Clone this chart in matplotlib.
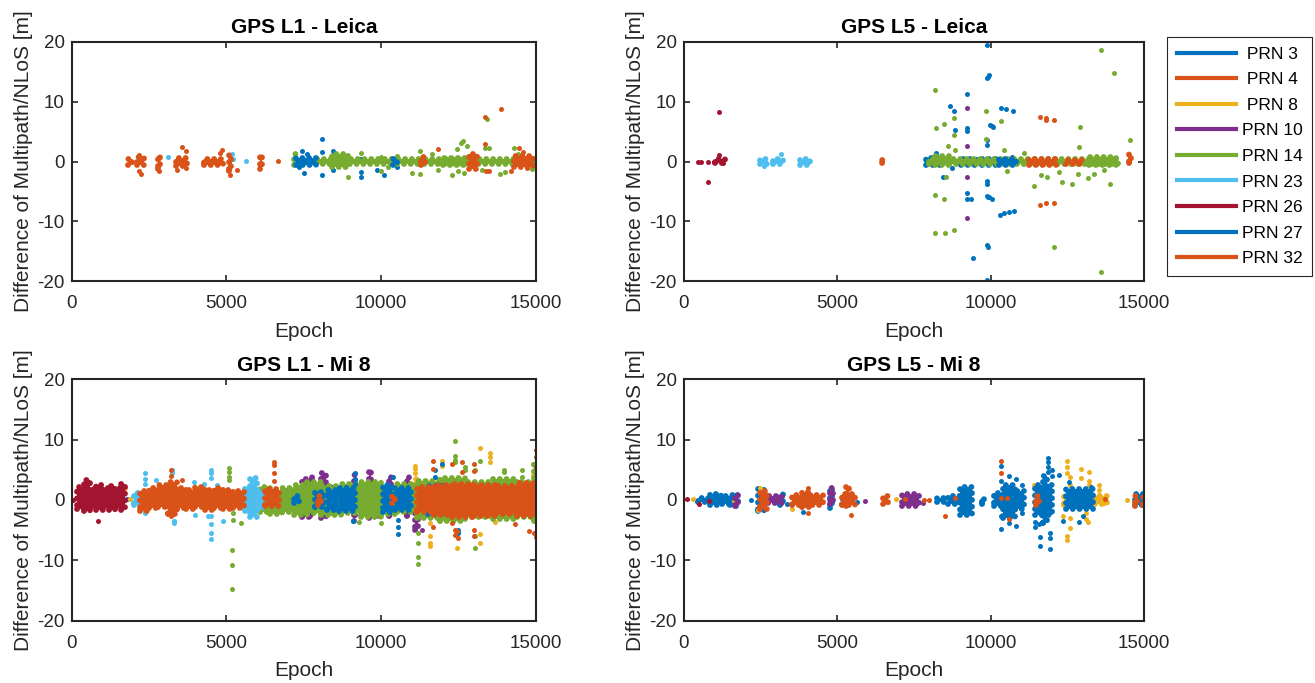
import matplotlib
matplotlib.use("Agg")
import matplotlib.pyplot as plt
from matplotlib.lines import Line2D

plt.rcParams['font.family'] = ['Liberation Sans', 'DejaVu Sans']
plt.rcParams['axes.unicode_minus'] = False

# PRN list and MATLAB default colour order
prns = [3, 4, 8, 10, 14, 23, 26, 27, 32]
prn_colors = ['#0072BD', '#D95319', '#EDB120', '#7E2F8E', '#77AC30',
              '#4DBEEE', '#A2142F', '#0072BD', '#D95319']
legend_labels = [' PRN 3', ' PRN 4', ' PRN 8', 'PRN 10', 'PRN 14',
                 'PRN 23', 'PRN 26', 'PRN 27', 'PRN 32']

# dense clusters: (prn, epoch start, epoch end, low, high)
# isolated dots: (prn, epoch, value)

# ---- GPS L1 - Leica
l1_leica_bands = [
    (32, 1820, 1960, -0.5, 0.5), (32, 2120, 2330, -0.6, 0.7), (32, 2800, 2840, -1.3, 1.0),
    (32, 3380, 3720, -0.7, 0.6), (32, 4280, 4900, -0.6, 0.5), (32, 5100, 5140, -1.5, 1.1),
    (32, 6100, 6140, -1.2, 1.1),
    (14, 7180, 7260, -0.5, 1.2), (27, 7250, 7900, -0.6, 0.6),
    (14, 7900, 14950, -0.35, 0.35), (14, 8400, 8930, -0.9, 1.2), (14, 12000, 13000, -0.6, 0.6),
    (3, 8650, 8930, -0.5, 0.5), (27, 10380, 10520, -0.6, 0.5),
    (32, 11300, 11420, -0.5, 0.8), (32, 12850, 13100, -1.3, 1.2), (32, 14300, 14900, -0.9, 1.0),
]
l1_leica_points = [
    (32, 2252, -2.1), (32, 2167, -1.5), (32, 2187, 1.1), (32, 2816, -1.6), (32, 3553, 2.5),
    (32, 3683, 1.8), (32, 3390, -1.4), (32, 3683, -1.1), (32, 4874, 2.0), (32, 4798, 1.5),
    (32, 5123, -2.3), (32, 5340, -1.4), (32, 6662, 0.15),
    (23, 3108, 0.8), (23, 5165, 1.3), (23, 5200, 0.5), (23, 5633, 0.1),
    (27, 7450, 1.8), (27, 7500, -1.9), (27, 7600, 1.2), (27, 7350, -0.9),
    (3, 8085, 3.8), (3, 8085, 1.6), (3, 8085, -2.2), (3, 8440, 1.8), (3, 8440, -1.4),
    (3, 9361, 0.5), (3, 9361, -1.8), (3, 9361, -2.5), (3, 9880, -1.4), (3, 10100, -2.2),
    (3, 10280, -0.2), (3, 10500, 0.3), (3, 10500, -0.9), (3, 8928, 0.8),
    (14, 8928, -2.6), (14, 9340, 1.5), (14, 10010, 0.8), (14, 10010, -1.6), (14, 10230, -0.9),
    (14, 10500, 0.9), (14, 10985, -1.9), (14, 11255, -2.1), (14, 11255, 1.8), (14, 11634, 1.2),
    (14, 11850, -1.4), (14, 12283, -2.3), (14, 12446, 2.1), (14, 12500, -1.6), (14, 12587, 3.1),
    (14, 12652, 3.5), (14, 12760, 2.6), (14, 12662, -1.9), (14, 13258, -1.4), (14, 13420, 7.1),
    (14, 13474, 2.2), (14, 13345, 2.2), (14, 13853, -2.0), (14, 14016, -1.8), (14, 14287, 2.3),
    (14, 14427, 1.3), (14, 14882, -1.3),
    (32, 11850, 2.1), (32, 13366, 7.4), (32, 13885, 8.7), (32, 13366, 3.0), (32, 13388, -1.5),
    (32, 13474, -1.5), (32, 14200, -1.6), (32, 14470, 2.2), (32, 14600, 1.6), (32, 14700, -1.1),
]

# ---- GPS L5 - Leica
l5_leica_bands = [
    (26, 1030, 1340, -0.3, 0.5),
    (23, 2480, 2700, -0.4, 0.4), (23, 2920, 3240, -0.4, 0.5), (23, 3790, 4120, -0.5, 0.5),
    (32, 6450, 6530, -0.3, 0.3),
    (3, 7880, 8430, -0.5, 0.6), (3, 9020, 9510, -0.5, 0.4), (3, 9730, 10160, -0.5, 0.4),
    (14, 8000, 14150, -0.35, 0.35), (14, 8200, 8700, -0.6, 1.0), (14, 13200, 14100, -0.6, 0.8),
    (27, 10270, 10820, -0.5, 0.4),
    (32, 11240, 12120, -0.6, 0.5), (32, 12450, 12990, -0.4, 0.3), (32, 14500, 14560, -0.2, 1.2),
]
l5_leica_points = [
    (26, 468, 0.0), (26, 556, 0.0), (26, 795, 0.0), (26, 795, -3.4), (26, 1133, 8.3),
    (26, 1140, 1.1), (26, 1290, -0.2),
    (23, 2600, -0.8), (23, 3170, 1.3),
    (3, 9869, 19.5), (3, 9869, 13.9), (3, 9900, 14.1), (3, 9950, 14.4), (3, 9869, 3.6),
    (3, 9869, 2.8), (3, 9869, -3.3), (3, 9880, -3.7), (3, 9869, -5.8), (3, 9900, -5.9),
    (3, 9960, -6.0), (3, 10050, -6.2), (3, 9869, -14.0), (3, 9900, -14.3), (3, 9869, -19.7),
    (3, 9980, 6.1), (3, 10030, 6.0), (3, 10080, 5.8),
    (3, 9238, 11.2), (3, 9238, 5.6), (3, 9238, 5.1), (3, 9238, -5.2), (3, 9238, -6.2),
    (3, 8682, 9.3), (3, 8813, 8.5), (3, 8824, 5.2), (3, 8748, -1.1), (3, 8443, -2.5),
    (3, 8224, 1.4), (3, 10349, 9.0), (3, 10490, 8.7), (3, 10730, 8.5), (3, 10305, -9.0),
    (3, 10436, -8.6), (3, 10600, -8.4), (3, 10763, -8.3), (3, 9433, -16.1), (3, 9346, -6.3),
    (3, 10708, 0.8),
    (10, 9238, 9.0), (10, 9238, 2.6), (10, 9238, -2.5), (10, 9238, -9.4), (10, 8000, 0.0),
    (14, 8203, 12.0), (14, 8203, -5.6), (14, 8203, -12.0), (14, 8235, 5.6), (14, 8475, 6.3),
    (14, 8475, -6.2), (14, 8508, -11.9), (14, 8530, -2.5), (14, 8617, 2.6), (14, 8802, 7.3),
    (14, 8802, 4.4), (14, 8802, -11.5), (14, 8835, 2.0), (14, 9836, 8.4), (14, 9836, 3.7),
    (14, 10327, 6.7), (14, 10436, 1.9), (14, 10545, -1.5), (14, 11090, 1.5), (14, 11417, -4.1),
    (14, 11635, -2.2), (14, 11853, -2.5), (14, 12071, -14.2), (14, 12234, -1.8), (14, 12310, -3.4),
    (14, 12637, -3.8), (14, 12855, -2.1), (14, 12910, 5.7), (14, 12888, 2.5), (14, 13160, -2.7),
    (14, 13356, -2.0), (14, 13607, 18.6), (14, 13607, -18.5), (14, 14032, 14.8), (14, 13901, -3.7),
    (14, 13683, -1.4), (14, 14554, 3.6),
    (32, 11602, 7.5), (32, 11602, -7.3), (32, 11820, 7.3), (32, 11820, 6.9), (32, 11820, -6.9),
    (32, 12071, 6.9), (32, 12071, -6.9),
]

# ---- GPS L1 - Mi 8
l1_mi8_bands = [
    (26, 160, 400, -1.5, 2.2), (26, 400, 600, -1.9, 3.3), (26, 600, 800, -1.3, 1.8),
    (26, 800, 1000, -1.7, 2.4), (26, 1000, 1200, -1.4, 2.0), (26, 1200, 1400, -1.6, 2.3),
    (26, 1400, 1600, -1.3, 1.9), (26, 1600, 1730, -1.7, 2.6),
    (23, 2000, 2220, -0.9, 1.2),
    (23, 5600, 5750, -1.8, 2.0), (23, 5750, 6000, -2.8, 3.6), (23, 6000, 6150, -1.5, 1.5),
    (3, 5630, 5790, -0.6, 0.6),
    (10, 7450, 7750, -2.9, 3.5), (10, 7700, 7780, -2.7, 3.8), (10, 8060, 8230, -3.0, 4.4),
    (10, 8360, 8420, -2.2, 2.5), (10, 9120, 9170, -3.5, 4.1), (10, 9600, 9660, -3.0, 4.9),
    (10, 9930, 9990, -2.7, 2.2), (10, 10250, 10310, -2.7, 3.8), (10, 10850, 10900, -2.7, 3.8),
    (10, 11090, 11200, -4.9, 2.7),
    (14, 6100, 6400, -2.0, 2.2), (14, 6400, 6800, -2.4, 1.5), (14, 6800, 7200, -2.0, 2.0),
    (14, 7200, 7600, -2.5, 2.4), (14, 7600, 8100, -2.2, 3.0), (14, 8060, 8700, -2.5, 2.3),
    (14, 8700, 9360, -2.2, 2.6),
    (14, 9360, 10010, -2.8, 3.0), (14, 10010, 10500, -2.4, 2.0), (14, 10500, 11150, -2.0, 2.6),
    (14, 11150, 11900, -3.0, 3.2), (14, 11900, 12700, -3.4, 3.6), (14, 12700, 13600, -2.8, 3.0),
    (14, 13600, 14400, -3.2, 3.4), (14, 14400, 15100, -2.9, 3.0),
    (14, 14950, 15100, -3.5, 6.0),
    (8, 11080, 11120, -2.0, 3.5),
    (27, 7200, 7360, -0.5, 0.6), (27, 7850, 8150, -1.2, 1.3), (27, 8250, 8600, -1.6, 1.6),
    (27, 8650, 9150, -1.8, 2.0),
    (27, 10050, 10350, -2.0, 2.5), (27, 10450, 10950, -1.6, 2.0), (27, 11500, 12070, -2.3, 2.3),
    (32, 2220, 2500, -1.8, 1.5), (32, 2500, 2800, -1.4, 1.9), (32, 2800, 3100, -1.2, 2.4),
    (32, 3100, 3400, -2.3, 3.0), (32, 3400, 3700, -1.3, 2.0), (32, 3700, 4000, -1.5, 1.7),
    (32, 4000, 4300, -1.2, 2.1), (32, 4300, 4600, -1.6, 1.6), (32, 4600, 4900, -1.4, 1.9),
    (32, 4900, 5200, -1.5, 1.6), (32, 5200, 5580, -1.3, 1.5), (32, 6250, 6700, -1.0, 1.8),
    (32, 7950, 8050, -0.8, 0.6), (32, 10350, 10450, -0.5, 0.6),
    (32, 11150, 11700, -2.0, 2.2), (32, 11700, 12300, -2.5, 2.5), (32, 12300, 13000, -2.8, 2.6),
    (32, 13000, 13700, -2.6, 2.4), (32, 13700, 14400, -2.4, 2.3), (32, 14400, 15100, -2.6, 2.8),
]
l1_mi8_points = [
    (26, 30, 0.0), (26, 865, -3.4),
    (8, 1733, 1.9), (8, 1895, 0.1), (8, 2167, -1.5), (8, 2925, 2.2),
    (8, 11093, 5.7), (8, 11093, 5.1), (8, 11093, 4.4), (8, 11580, -3.8), (8, 11580, -6.0),
    (8, 11580, -7.1), (8, 11580, -7.7), (8, 11959, 6.5), (8, 11959, 5.7), (8, 12446, -8.0),
    (8, 13204, 8.6), (8, 13204, -5.7), (8, 13204, -7.1), (8, 13529, 7.7), (8, 13529, 7.1),
    (8, 13529, 6.3), (8, 13692, -3.6), (8, 14900, 6.0), (8, 14900, 4.2),
    (3, 1787, 0.2),
    (23, 2382, 4.4), (23, 2382, 3.5), (23, 2382, 2.7), (23, 2382, -1.6), (23, 2382, -2.2),
    (23, 2740, 3.3), (23, 3250, 5.0), (23, 3250, 4.4), (23, 3303, -3.5), (23, 3303, -3.8),
    (23, 3960, 3.0), (23, 4000, -2.5), (23, 4280, 2.6), (23, 4390, -2.7), (23, 4516, 5.0),
    (23, 4516, 4.5), (23, 4516, 3.6), (23, 4516, -2.7), (23, 4516, -4.0), (23, 4516, -5.5),
    (23, 4516, -6.5), (23, 4906, -3.5), (23, 4710, 2.5),
    (14, 5090, 5.3), (14, 5090, 4.7), (14, 5090, 3.8), (14, 5090, 3.3), (14, 5200, -1.1),
    (14, 5200, -2.2), (14, 5200, -3.3), (14, 5167, -8.3), (14, 5167, -10.7), (14, 5167, -14.8),
    (14, 5470, -3.8), (14, 9300, -3.7), (14, 10011, -3.8), (14, 11201, -5.5), (14, 11201, -7.1),
    (14, 11201, -9.4), (14, 11201, -10.6), (14, 12392, 9.7), (14, 12392, 7.2), (14, 12392, 6.6),
    (14, 12392, 6.2), (14, 12717, 5.4), (14, 12717, 4.9), (14, 13042, -6.0), (14, 13042, -7.9),
    (14, 13204, 6.4), (14, 13962, 4.7), (14, 13962, 5.0), (14, 14557, 4.9), (14, 14557, 3.8),
    (14, 13042, 4.9),
    (10, 11330, -5.0),
    (27, 9145, 4.4), (27, 9145, 3.5), (27, 9145, 2.7), (27, 9090, -3.5), (27, 10553, -3.3),
    (27, 10553, -4.5), (27, 10553, -5.7), (27, 10390, 3.8), (27, 11959, 6.0), (27, 11743, 5.0),
    (27, 11743, 3.8), (27, 12500, -5.5), (27, 12500, -4.9),
    (32, 3195, 4.9), (32, 3195, 3.9), (32, 3195, -2.7), (32, 3575, 3.3), (32, 6553, 6.3),
    (32, 6553, 5.8), (32, 6553, 4.4), (32, 6553, 3.2),
    (32, 11667, 6.5), (32, 11667, 5.2), (32, 11667, -4.4), (32, 12284, 5.9), (32, 12284, -3.8),
    (32, 12400, -4.9), (32, 12450, -5.2), (32, 12500, -6.3), (32, 12608, 6.2), (32, 12608, 4.6),
    (32, 12987, 5.9), (32, 12987, 4.8), (32, 12987, -5.0), (32, 12987, -6.0), (32, 12392, -5.8),
    (32, 14341, -3.9), (32, 14774, -5.2), (32, 14990, -6.1), (32, 15015, 8.2), (32, 15015, 7.1),
    (32, 15015, 5.4), (32, 15070, 6.4), (32, 14937, -5.5),
]

# ---- GPS L5 - Mi 8
l5_mi8_bands = [
    (3, 470, 800, -0.3, 0.3), (3, 850, 1200, -0.9, 1.0), (3, 1250, 1500, -0.6, 0.6),
    (3, 1500, 1600, -0.8, 0.9), (3, 1700, 1760, -1.0, 0.8), (3, 2430, 2600, -1.8, 1.8),
    (3, 3150, 3220, -0.9, 1.0), (3, 4770, 4830, -1.4, 2.0),
    (10, 1680, 1760, -1.0, 0.9), (10, 2760, 3190, -0.5, 0.7), (10, 4780, 4860, -0.6, 2.0),
    (10, 7110, 7660, -1.0, 1.0),
    (32, 2480, 2700, -1.5, 1.5), (32, 3520, 4550, -0.8, 0.8), (32, 3850, 4150, -1.2, 1.3),
    (32, 5150, 5590, -0.8, 1.0), (32, 5300, 5400, -1.0, 2.3), (32, 6500, 6640, -0.6, 0.7),
    (8, 12400, 13300, -0.9, 0.9), (8, 13400, 13800, -0.6, 0.6),
    (27, 8250, 8500, -0.3, 0.3), (27, 8600, 9000, -0.6, 0.7), (27, 9000, 9400, -2.5, 2.2),
    (27, 9730, 9770, -0.6, 0.4), (27, 10110, 10400, -1.0, 1.1), (27, 10400, 10800, -3.0, 2.5),
    (27, 10800, 11090, -1.5, 1.5), (27, 11450, 12000, -2.5, 2.5), (27, 11700, 11850, -3.8, 4.0),
    (27, 12450, 13330, -1.5, 1.8), (27, 14700, 15100, -0.9, 1.0),
    (32, 11480, 11580, -0.8, 0.6), (32, 14700, 14780, -1.0, 0.6), (32, 14980, 15100, -0.8, 0.8),
]
l5_mi8_points = [
    (26, 120, 0.2), (26, 490, -0.7), (26, 817, -0.2),
    (8, 316, 0.2), (8, 1645, -0.2), (8, 2484, 2.0), (8, 2430, -1.7), (8, 3519, -1.5),
    (8, 6918, 0.2), (8, 11417, 2.4), (8, 12474, 6.4), (8, 12474, 5.5), (8, 12474, 4.5),
    (8, 12474, -5.9), (8, 12474, -6.7), (8, 12343, -2.6), (8, 12583, 3.8), (8, 12583, 2.5),
    (8, 12583, -3.0), (8, 12583, -4.6), (8, 12942, 5.1), (8, 12942, 3.7), (8, 13214, 4.6),
    (8, 13214, 3.2), (8, 13214, 2.4), (8, 13105, -2.1), (8, 13105, -3.2), (8, 13160, -3.6),
    (8, 13540, 2.4), (8, 13540, 1.6), (8, 13540, 0.8), (8, 13700, 0.2), (8, 13700, -0.5),
    (8, 14460, 0.0),
    (3, 2190, 0.0), (3, 3350, -0.7), (3, 3900, -2.0), (3, 5150, 0.2), (3, 5640, -0.3),
    (3, 7330, 0.2), (3, 7550, 0.2),
    (10, 5915, -0.2), (10, 7788, -0.5),
    (32, 4063, 2.0), (32, 4063, -2.2), (32, 5448, -2.5), (32, 7220, 0.2), (32, 7821, 0.0),
    (32, 7985, 0.0), (32, 8508, -2.6), (32, 8835, 0.3), (32, 10327, 6.4), (32, 10327, 4.5),
    (32, 10327, 0.3), (32, 10545, 0.3), (32, 10600, -3.1), (32, 13737, 0.1), (32, 15040, 5.0),
    (32, 15040, -1.5), (32, 15040, -2.5), (32, 15040, -4.3),
    (27, 10327, 5.6), (27, 10327, 3.1), (27, 10327, -2.7), (27, 10327, -4.8), (27, 10600, 3.9),
    (27, 10600, -3.8), (27, 10818, 3.4), (27, 10818, -4.3), (27, 11036, 2.5), (27, 11036, -2.2),
    (27, 11884, 7.0), (27, 11884, 6.2), (27, 11884, 5.5), (27, 11884, 4.6), (27, 11927, -5.5),
    (27, 11927, -6.3), (27, 11938, -8.1), (27, 11612, -6.2), (27, 11612, -7.6), (27, 11460, -3.7),
    (27, 11460, -4.5), (27, 11590, -4.0), (27, 12015, 4.9), (27, 12015, 3.9), (27, 12234, 4.1),
    (27, 12343, -3.5), (27, 12560, 2.9), (27, 12888, -3.6), (27, 12997, -2.6), (27, 13270, 2.2),
]

panels = [
    ("GPS L1 - Leica", l1_leica_bands, l1_leica_points),
    ("GPS L5 - Leica", l5_leica_bands, l5_leica_points),
    ("GPS L1 - Mi 8", l1_mi8_bands, l1_mi8_points),
    ("GPS L5 - Mi 8", l5_mi8_bands, l5_mi8_points),
]
positions = [
    [0.0545, 0.588, 0.353, 0.351],
    [0.520, 0.588, 0.350, 0.351],
    [0.0545, 0.091, 0.353, 0.354],
    [0.520, 0.091, 0.350, 0.354],
]

axcol = '#262626'
fig = plt.figure(figsize=(13.15, 6.83), dpi=100)

for (title, bands, points), pos in zip(panels, positions):
    ax = fig.add_axes(pos)
    for k, (prn, col) in enumerate(zip(prns, prn_colors)):
        for b in bands:
            if b[0] != prn:
                continue
            ax.fill_between([b[1], b[2]], [b[3], b[3]], [b[4], b[4]],
                            color=col, lw=0, zorder=2 + k)
            # beaded outline so the cluster edge reads like a cloud of dots
            ax.plot([b[1], b[2], b[2], b[1], b[1]], [b[3], b[3], b[4], b[4], b[3]],
                    color=col, lw=4.2, ls=(0, (0.01, 1.15)), dash_capstyle='round',
                    zorder=2 + k)
        ex = [p[1] for p in points if p[0] == prn]
        ey = [p[2] for p in points if p[0] == prn]
        ax.plot(ex, ey, 'o', ms=3.6, mew=0, color=col, zorder=2 + k)
    ax.set_xlim(0, 15000)
    ax.set_ylim(-20, 20)
    ax.set_xticks([0, 5000, 10000, 15000])
    ax.set_yticks([-20, -10, 0, 10, 20])
    ax.tick_params(direction='in', length=4, width=1.2, colors=axcol,
                   labelsize=13.5, top=True, right=True, pad=5)
    ax.tick_params(axis='x', pad=10)
    for s in ax.spines.values():
        s.set_color(axcol)
        s.set_linewidth(1.5)
        s.set_zorder(20)
    ax.set_title(title, fontsize=15, fontweight='bold', color='black', pad=6)
    ax.set_xlabel("Epoch", fontsize=15, color=axcol, labelpad=7)
    ax.set_ylabel("Difference of Multipath/NLoS [m]", fontsize=15, color=axcol, labelpad=3)

handles = [Line2D([0], [0], color=c, lw=3) for c in prn_colors]
leg = fig.legend(handles, legend_labels, loc='upper left',
                 bbox_to_anchor=(1167 / 1315, 1 - 37 / 683), fontsize=12.5,
                 handlelength=3.4, handletextpad=0.35, labelspacing=0.6,
                 borderpad=0.55, borderaxespad=0, fancybox=False, framealpha=1)
leg.get_frame().set_edgecolor('#262626')
leg.get_frame().set_linewidth(0.8)

fig.savefig("out.png", dpi=100)
